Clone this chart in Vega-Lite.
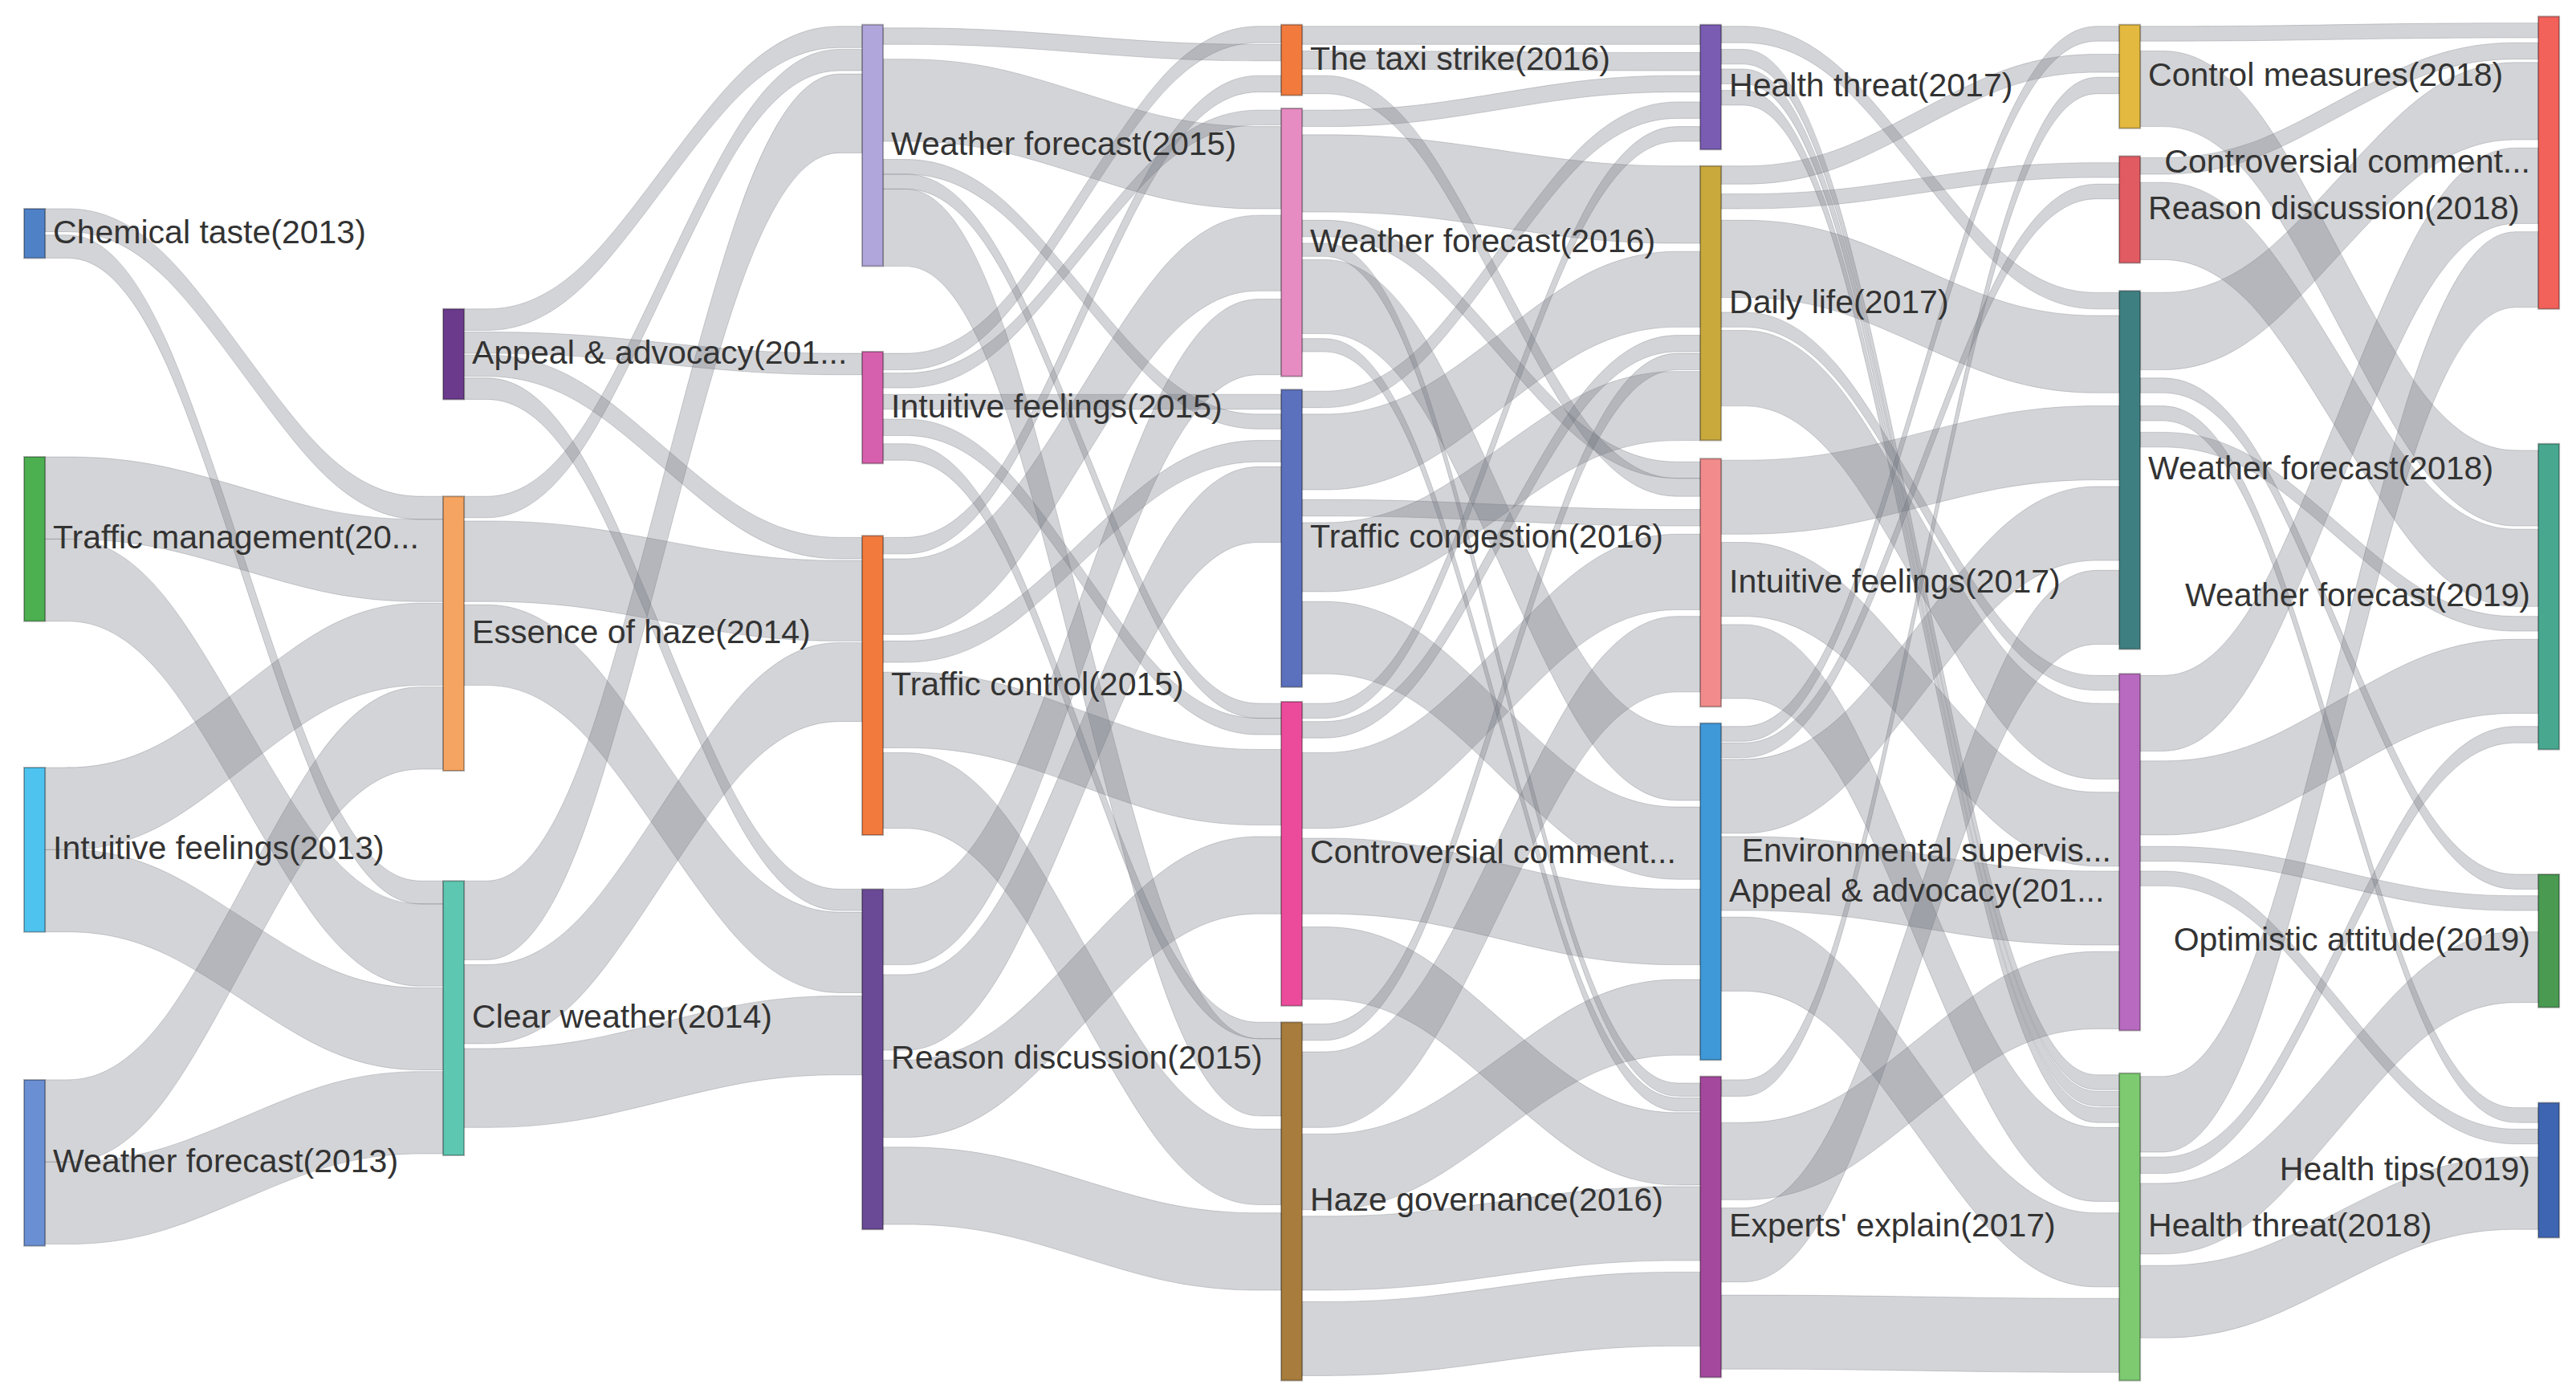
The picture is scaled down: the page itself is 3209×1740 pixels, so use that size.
{
  "$schema": "https://vega.github.io/schema/vega-lite/v6.json",
  "width": 3209,
  "height": 1740,
  "autosize": {"type": "fit", "contains": "padding"},
  "padding": 0,
  "background": "#ffffff",
  "config": {"view": {"stroke": null}},
  "datasets": {
    "nodes": [
      {"id": "Chemical taste(2013)", "label": "Chemical taste(2013)", "c": 0, "y0": 127, "y1": 157, "side": "r"},
      {"id": "Traffic management(2013)", "label": "Traffic management(20...", "c": 0, "y0": 278, "y1": 378, "side": "r"},
      {"id": "Intuitive feelings(2013)", "label": "Intuitive feelings(2013)", "c": 0, "y0": 467, "y1": 567, "side": "r"},
      {"id": "Weather forecast(2013)", "label": "Weather forecast(2013)", "c": 0, "y0": 657, "y1": 758, "side": "r"},
      {"id": "Appeal & advocacy(2014)", "label": "Appeal & advocacy(201...", "c": 1, "y0": 188, "y1": 243, "side": "r"},
      {"id": "Essence of haze(2014)", "label": "Essence of haze(2014)", "c": 1, "y0": 302, "y1": 469, "side": "r"},
      {"id": "Clear weather(2014)", "label": "Clear weather(2014)", "c": 1, "y0": 536, "y1": 703, "side": "r"},
      {"id": "Weather forecast(2015)", "label": "Weather forecast(2015)", "c": 2, "y0": 15, "y1": 162, "side": "r"},
      {"id": "Intuitive feelings(2015)", "label": "Intuitive feelings(2015)", "c": 2, "y0": 214, "y1": 282, "side": "r"},
      {"id": "Traffic control(2015)", "label": "Traffic control(2015)", "c": 2, "y0": 326, "y1": 508, "side": "r"},
      {"id": "Reason discussion(2015)", "label": "Reason discussion(2015)", "c": 2, "y0": 541, "y1": 748, "side": "r"},
      {"id": "The taxi strike(2016)", "label": "The taxi strike(2016)", "c": 3, "y0": 15, "y1": 58, "side": "r"},
      {"id": "Weather forecast(2016)", "label": "Weather forecast(2016)", "c": 3, "y0": 66, "y1": 229, "side": "r"},
      {"id": "Traffic congestion(2016)", "label": "Traffic congestion(2016)", "c": 3, "y0": 237, "y1": 418, "side": "r"},
      {"id": "Controversial comment(2016)", "label": "Controversial comment...", "c": 3, "y0": 427, "y1": 612, "side": "r"},
      {"id": "Haze governance(2016)", "label": "Haze governance(2016)", "c": 3, "y0": 622, "y1": 840, "side": "r"},
      {"id": "Health threat(2017)", "label": "Health threat(2017)", "c": 4, "y0": 15, "y1": 91, "side": "r"},
      {"id": "Daily life(2017)", "label": "Daily life(2017)", "c": 4, "y0": 101, "y1": 268, "side": "r"},
      {"id": "Intuitive feelings(2017)", "label": "Intuitive feelings(2017)", "c": 4, "y0": 279, "y1": 430, "side": "r"},
      {"id": "Appeal & advocacy(2017)", "label": "Appeal & advocacy(201...", "c": 4, "y0": 440, "y1": 645, "side": "r"},
      {"id": "Experts' explain(2017)", "label": "Experts' explain(2017)", "c": 4, "y0": 655, "y1": 838, "side": "r"},
      {"id": "Control measures(2018)", "label": "Control measures(2018)", "c": 5, "y0": 15, "y1": 78, "side": "r"},
      {"id": "Reason discussion(2018)", "label": "Reason discussion(2018)", "c": 5, "y0": 95, "y1": 160, "side": "r"},
      {"id": "Weather forecast(2018)", "label": "Weather forecast(2018)", "c": 5, "y0": 177, "y1": 395, "side": "r"},
      {"id": "Environmental supervision(2018)", "label": "Environmental supervis...", "c": 5, "y0": 410, "y1": 627, "side": "l"},
      {"id": "Health threat(2018)", "label": "Health threat(2018)", "c": 5, "y0": 653, "y1": 840, "side": "r"},
      {"id": "Controversial comment(2019)", "label": "Controversial comment...", "c": 6, "y0": 10, "y1": 188, "side": "l"},
      {"id": "Weather forecast(2019)", "label": "Weather forecast(2019)", "c": 6, "y0": 270, "y1": 456, "side": "l"},
      {"id": "Optimistic attitude(2019)", "label": "Optimistic attitude(2019)", "c": 6, "y0": 532, "y1": 613, "side": "l"},
      {"id": "Health tips(2019)", "label": "Health tips(2019)", "c": 6, "y0": 671, "y1": 753, "side": "l"}
    ],
    "links": [
      {"s": "Chemical taste(2013)", "t": "Essence of haze(2014)", "c": 0, "sy": 127, "ty": 302, "v": 14},
      {"s": "Chemical taste(2013)", "t": "Clear weather(2014)", "c": 0, "sy": 143, "ty": 536, "v": 14},
      {"s": "Traffic management(2013)", "t": "Essence of haze(2014)", "c": 0, "sy": 278, "ty": 316, "v": 50},
      {"s": "Traffic management(2013)", "t": "Clear weather(2014)", "c": 0, "sy": 328, "ty": 550, "v": 50},
      {"s": "Intuitive feelings(2013)", "t": "Essence of haze(2014)", "c": 0, "sy": 467, "ty": 367, "v": 50},
      {"s": "Intuitive feelings(2013)", "t": "Clear weather(2014)", "c": 0, "sy": 517, "ty": 601, "v": 50},
      {"s": "Weather forecast(2013)", "t": "Essence of haze(2014)", "c": 0, "sy": 657, "ty": 418, "v": 50},
      {"s": "Weather forecast(2013)", "t": "Clear weather(2014)", "c": 0, "sy": 707, "ty": 652, "v": 50},

      {"s": "Appeal & advocacy(2014)", "t": "Weather forecast(2015)", "c": 1, "sy": 188, "ty": 16, "v": 13},
      {"s": "Appeal & advocacy(2014)", "t": "Intuitive feelings(2015)", "c": 1, "sy": 202, "ty": 215, "v": 13},
      {"s": "Appeal & advocacy(2014)", "t": "Traffic control(2015)", "c": 1, "sy": 216, "ty": 327, "v": 13},
      {"s": "Appeal & advocacy(2014)", "t": "Reason discussion(2015)", "c": 1, "sy": 230, "ty": 541, "v": 13},
      {"s": "Essence of haze(2014)", "t": "Weather forecast(2015)", "c": 1, "sy": 302, "ty": 30, "v": 13},
      {"s": "Essence of haze(2014)", "t": "Traffic control(2015)", "c": 1, "sy": 317, "ty": 341, "v": 49},
      {"s": "Essence of haze(2014)", "t": "Reason discussion(2015)", "c": 1, "sy": 368, "ty": 555, "v": 49},
      {"s": "Clear weather(2014)", "t": "Weather forecast(2015)", "c": 1, "sy": 536, "ty": 45, "v": 48},
      {"s": "Clear weather(2014)", "t": "Traffic control(2015)", "c": 1, "sy": 587, "ty": 391, "v": 48},
      {"s": "Clear weather(2014)", "t": "Reason discussion(2015)", "c": 1, "sy": 638, "ty": 606, "v": 48},

      {"s": "Weather forecast(2015)", "t": "The taxi strike(2016)", "c": 2, "sy": 17, "ty": 27, "v": 10},
      {"s": "Weather forecast(2015)", "t": "Weather forecast(2016)", "c": 2, "sy": 36, "ty": 77, "v": 50},
      {"s": "Weather forecast(2015)", "t": "Traffic congestion(2016)", "c": 2, "sy": 97, "ty": 252, "v": 9},
      {"s": "Weather forecast(2015)", "t": "Controversial comment(2016)", "c": 2, "sy": 106, "ty": 428, "v": 9},
      {"s": "Weather forecast(2015)", "t": "Haze governance(2016)", "c": 2, "sy": 115, "ty": 632, "v": 47},
      {"s": "Intuitive feelings(2015)", "t": "The taxi strike(2016)", "c": 2, "sy": 215, "ty": 16, "v": 10},
      {"s": "Intuitive feelings(2015)", "t": "Weather forecast(2016)", "c": 2, "sy": 227, "ty": 67, "v": 9},
      {"s": "Intuitive feelings(2015)", "t": "Traffic congestion(2016)", "c": 2, "sy": 240, "ty": 240, "v": 9},
      {"s": "Intuitive feelings(2015)", "t": "Controversial comment(2016)", "c": 2, "sy": 255, "ty": 437, "v": 10},
      {"s": "Intuitive feelings(2015)", "t": "Haze governance(2016)", "c": 2, "sy": 270, "ty": 622, "v": 10},
      {"s": "Traffic control(2015)", "t": "The taxi strike(2016)", "c": 2, "sy": 327, "ty": 46, "v": 10},
      {"s": "Traffic control(2015)", "t": "Weather forecast(2016)", "c": 2, "sy": 340, "ty": 131, "v": 46},
      {"s": "Traffic control(2015)", "t": "Traffic congestion(2016)", "c": 2, "sy": 390, "ty": 268, "v": 13},
      {"s": "Traffic control(2015)", "t": "Controversial comment(2016)", "c": 2, "sy": 409, "ty": 456, "v": 46},
      {"s": "Traffic control(2015)", "t": "Haze governance(2016)", "c": 2, "sy": 458, "ty": 687, "v": 46},
      {"s": "Reason discussion(2015)", "t": "Weather forecast(2016)", "c": 2, "sy": 541, "ty": 182, "v": 46},
      {"s": "Reason discussion(2015)", "t": "Traffic congestion(2016)", "c": 2, "sy": 593, "ty": 284, "v": 46},
      {"s": "Reason discussion(2015)", "t": "Controversial comment(2016)", "c": 2, "sy": 645, "ty": 509, "v": 47},
      {"s": "Reason discussion(2015)", "t": "Haze governance(2016)", "c": 2, "sy": 698, "ty": 738, "v": 47},

      {"s": "The taxi strike(2016)", "t": "Health threat(2017)", "c": 3, "sy": 16, "ty": 16, "v": 11},
      {"s": "The taxi strike(2016)", "t": "Health threat(2017)", "c": 3, "sy": 31, "ty": 32, "v": 11},
      {"s": "The taxi strike(2016)", "t": "Intuitive feelings(2017)", "c": 3, "sy": 46, "ty": 291, "v": 11},
      {"s": "Weather forecast(2016)", "t": "Health threat(2017)", "c": 3, "sy": 67, "ty": 46, "v": 10},
      {"s": "Weather forecast(2016)", "t": "Daily life(2017)", "c": 3, "sy": 82, "ty": 101, "v": 47},
      {"s": "Weather forecast(2016)", "t": "Intuitive feelings(2017)", "c": 3, "sy": 134, "ty": 281, "v": 10},
      {"s": "Weather forecast(2016)", "t": "Experts' explain(2017)", "c": 3, "sy": 148, "ty": 659, "v": 8},
      {"s": "Weather forecast(2016)", "t": "Appeal & advocacy(2017)", "c": 3, "sy": 158, "ty": 442, "v": 45},
      {"s": "Weather forecast(2016)", "t": "Experts' explain(2017)", "c": 3, "sy": 206, "ty": 668, "v": 8},
      {"s": "Traffic congestion(2016)", "t": "Health threat(2017)", "c": 3, "sy": 238, "ty": 62, "v": 10},
      {"s": "Traffic congestion(2016)", "t": "Daily life(2017)", "c": 3, "sy": 252, "ty": 153, "v": 46},
      {"s": "Traffic congestion(2016)", "t": "Intuitive feelings(2017)", "c": 3, "sy": 304, "ty": 310, "v": 10},
      {"s": "Traffic congestion(2016)", "t": "Daily life(2017)", "c": 3, "sy": 318, "ty": 226, "v": 42},
      {"s": "Traffic congestion(2016)", "t": "Appeal & advocacy(2017)", "c": 3, "sy": 366, "ty": 491, "v": 44},
      {"s": "Controversial comment(2016)", "t": "Health threat(2017)", "c": 3, "sy": 428, "ty": 77, "v": 9},
      {"s": "Controversial comment(2016)", "t": "Daily life(2017)", "c": 3, "sy": 439, "ty": 204, "v": 10},
      {"s": "Controversial comment(2016)", "t": "Intuitive feelings(2017)", "c": 3, "sy": 458, "ty": 325, "v": 46},
      {"s": "Controversial comment(2016)", "t": "Appeal & advocacy(2017)", "c": 3, "sy": 510, "ty": 541, "v": 46},
      {"s": "Controversial comment(2016)", "t": "Experts' explain(2017)", "c": 3, "sy": 564, "ty": 677, "v": 44},
      {"s": "Haze governance(2016)", "t": "Daily life(2017)", "c": 3, "sy": 623, "ty": 215, "v": 10},
      {"s": "Haze governance(2016)", "t": "Intuitive feelings(2017)", "c": 3, "sy": 640, "ty": 375, "v": 46},
      {"s": "Haze governance(2016)", "t": "Appeal & advocacy(2017)", "c": 3, "sy": 690, "ty": 596, "v": 46},
      {"s": "Haze governance(2016)", "t": "Experts' explain(2017)", "c": 3, "sy": 740, "ty": 722, "v": 45},
      {"s": "Haze governance(2016)", "t": "Experts' explain(2017)", "c": 3, "sy": 792, "ty": 774, "v": 45},

      {"s": "Health threat(2017)", "t": "Weather forecast(2018)", "c": 4, "sy": 16, "ty": 178, "v": 10},
      {"s": "Health threat(2017)", "t": "Health threat(2018)", "c": 4, "sy": 30, "ty": 654, "v": 9},
      {"s": "Health threat(2017)", "t": "Health threat(2018)", "c": 4, "sy": 42, "ty": 664, "v": 9},
      {"s": "Health threat(2017)", "t": "Health threat(2018)", "c": 4, "sy": 55, "ty": 674, "v": 9},
      {"s": "Daily life(2017)", "t": "Control measures(2018)", "c": 4, "sy": 101, "ty": 33, "v": 11},
      {"s": "Daily life(2017)", "t": "Reason discussion(2018)", "c": 4, "sy": 118, "ty": 99, "v": 9},
      {"s": "Daily life(2017)", "t": "Weather forecast(2018)", "c": 4, "sy": 134, "ty": 192, "v": 47},
      {"s": "Daily life(2017)", "t": "Environmental supervision(2018)", "c": 4, "sy": 190, "ty": 411, "v": 9},
      {"s": "Daily life(2017)", "t": "Environmental supervision(2018)", "c": 4, "sy": 201, "ty": 428, "v": 46},
      {"s": "Intuitive feelings(2017)", "t": "Weather forecast(2018)", "c": 4, "sy": 280, "ty": 247, "v": 45},
      {"s": "Intuitive feelings(2017)", "t": "Environmental supervision(2018)", "c": 4, "sy": 330, "ty": 482, "v": 45},
      {"s": "Intuitive feelings(2017)", "t": "Health threat(2018)", "c": 4, "sy": 380, "ty": 686, "v": 45},
      {"s": "Appeal & advocacy(2017)", "t": "Control measures(2018)", "c": 4, "sy": 442, "ty": 16, "v": 9},
      {"s": "Appeal & advocacy(2017)", "t": "Reason discussion(2018)", "c": 4, "sy": 452, "ty": 112, "v": 9},
      {"s": "Appeal & advocacy(2017)", "t": "Weather forecast(2018)", "c": 4, "sy": 462, "ty": 296, "v": 45},
      {"s": "Appeal & advocacy(2017)", "t": "Environmental supervision(2018)", "c": 4, "sy": 509, "ty": 530, "v": 45},
      {"s": "Appeal & advocacy(2017)", "t": "Health threat(2018)", "c": 4, "sy": 558, "ty": 738, "v": 45},
      {"s": "Experts' explain(2017)", "t": "Control measures(2018)", "c": 4, "sy": 657, "ty": 47, "v": 10},
      {"s": "Experts' explain(2017)", "t": "Environmental supervision(2018)", "c": 4, "sy": 683, "ty": 579, "v": 47},
      {"s": "Experts' explain(2017)", "t": "Weather forecast(2018)", "c": 4, "sy": 735, "ty": 347, "v": 45},
      {"s": "Experts' explain(2017)", "t": "Health threat(2018)", "c": 4, "sy": 788, "ty": 790, "v": 45},

      {"s": "Control measures(2018)", "t": "Controversial comment(2019)", "c": 5, "sy": 16, "ty": 14, "v": 9},
      {"s": "Control measures(2018)", "t": "Weather forecast(2019)", "c": 5, "sy": 31, "ty": 274, "v": 46},
      {"s": "Reason discussion(2018)", "t": "Controversial comment(2019)", "c": 5, "sy": 96, "ty": 26, "v": 10},
      {"s": "Reason discussion(2018)", "t": "Weather forecast(2019)", "c": 5, "sy": 111, "ty": 322, "v": 47},
      {"s": "Weather forecast(2018)", "t": "Controversial comment(2019)", "c": 5, "sy": 178, "ty": 38, "v": 47},
      {"s": "Weather forecast(2018)", "t": "Optimistic attitude(2019)", "c": 5, "sy": 230, "ty": 532, "v": 9},
      {"s": "Weather forecast(2018)", "t": "Health tips(2019)", "c": 5, "sy": 247, "ty": 674, "v": 9},
      {"s": "Weather forecast(2018)", "t": "Weather forecast(2019)", "c": 5, "sy": 263, "ty": 375, "v": 9},
      {"s": "Environmental supervision(2018)", "t": "Controversial comment(2019)", "c": 5, "sy": 411, "ty": 90, "v": 46},
      {"s": "Environmental supervision(2018)", "t": "Weather forecast(2019)", "c": 5, "sy": 463, "ty": 389, "v": 45},
      {"s": "Environmental supervision(2018)", "t": "Optimistic attitude(2019)", "c": 5, "sy": 515, "ty": 545, "v": 9},
      {"s": "Environmental supervision(2018)", "t": "Health tips(2019)", "c": 5, "sy": 530, "ty": 687, "v": 9},
      {"s": "Health threat(2018)", "t": "Controversial comment(2019)", "c": 5, "sy": 655, "ty": 141, "v": 46},
      {"s": "Health threat(2018)", "t": "Weather forecast(2019)", "c": 5, "sy": 704, "ty": 442, "v": 10},
      {"s": "Health threat(2018)", "t": "Optimistic attitude(2019)", "c": 5, "sy": 720, "ty": 567, "v": 43},
      {"s": "Health threat(2018)", "t": "Health tips(2019)", "c": 5, "sy": 770, "ty": 704, "v": 44}
    ]
  },
  "layer": [
    {
      "data": {"name": "links"},
      "transform": [
        {"window": [{"op": "row_number", "as": "id"}]},
        {"calculate": "[datum.c + 0.05, datum.c + 0.316, datum.c + 0.734, datum.c + 1]", "as": "px"},
        {"calculate": "[datum.sy, datum.sy, datum.ty, datum.ty]", "as": "top"},
        {"calculate": "[datum.sy + datum.v, datum.sy + datum.v, datum.ty + datum.v, datum.ty + datum.v]", "as": "bot"},
        {"flatten": ["px", "top", "bot"]}
      ],
      "mark": {"type": "area", "orient": "vertical", "interpolate": "basis", "fill": "#6e7079", "fillOpacity": 0.3, "stroke": "#6e7079", "strokeOpacity": 0.3, "strokeWidth": 1},
      "encoding": {
        "x": {"field": "px", "type": "quantitative", "scale": {"domain": [-0.05747, 6.09], "nice": false, "zero": false}, "axis": null},
        "y": {"field": "top", "type": "quantitative", "stack": null, "scale": {"domain": [0, 850], "reverse": true, "nice": false, "zero": false}, "axis": null},
        "y2": {"field": "bot"},
        "detail": {"field": "id", "type": "nominal"}
      }
    },
    {
      "data": {"name": "nodes"},
      "transform": [{"calculate": "datum.c + 0.05", "as": "c2"}],
      "mark": {"type": "rect", "stroke": "#000000", "strokeOpacity": 0.3, "strokeWidth": 2},
      "encoding": {
        "x": {"field": "c", "type": "quantitative", "scale": {"domain": [-0.05747, 6.09], "nice": false, "zero": false}, "axis": null},
        "x2": {"field": "c2"},
        "y": {"field": "y0", "type": "quantitative", "scale": {"domain": [0, 850], "reverse": true, "nice": false, "zero": false}, "axis": null},
        "y2": {"field": "y1"},
        "fill": {
          "field": "id", "type": "nominal", "legend": null,
          "scale": {
            "domain": ["Chemical taste(2013)", "Traffic management(2013)", "Intuitive feelings(2013)", "Weather forecast(2013)", "Appeal & advocacy(2014)", "Essence of haze(2014)", "Clear weather(2014)", "Weather forecast(2015)", "Intuitive feelings(2015)", "Traffic control(2015)", "Reason discussion(2015)", "The taxi strike(2016)", "Weather forecast(2016)", "Traffic congestion(2016)", "Controversial comment(2016)", "Haze governance(2016)", "Health threat(2017)", "Daily life(2017)", "Intuitive feelings(2017)", "Appeal & advocacy(2017)", "Experts' explain(2017)", "Control measures(2018)", "Reason discussion(2018)", "Weather forecast(2018)", "Environmental supervision(2018)", "Health threat(2018)", "Controversial comment(2019)", "Weather forecast(2019)", "Optimistic attitude(2019)", "Health tips(2019)"],
            "range": ["#4f81c7", "#4caf50", "#4fc3f0", "#6a8fd3", "#6b3a8c", "#f5a462", "#5ec7b2", "#b1a6db", "#d660ad", "#f27a3d", "#6a4a96", "#f27a3d", "#e68cc3", "#5b71bd", "#ec4b9c", "#a77c3c", "#7a5cb3", "#c9a93c", "#f28b8b", "#3f98d8", "#a3489c", "#e3b93f", "#e15b63", "#3e7f82", "#b86ac0", "#7dca70", "#f2615a", "#47a88f", "#4a9a52", "#3e65b2"]
          }
        }
      }
    },
    {
      "data": {"name": "nodes"},
      "transform": [
        {"filter": "datum.side == 'r'"},
        {"calculate": "datum.c + 0.05", "as": "lx"},
        {"calculate": "(datum.y0 + datum.y1) / 2", "as": "ym"}
      ],
      "mark": {"type": "text", "align": "left", "baseline": "middle", "dx": 10, "font": "Liberation Sans", "fontSize": 41, "fill": "#333333"},
      "encoding": {
        "x": {"field": "lx", "type": "quantitative", "scale": {"domain": [-0.05747, 6.09], "nice": false, "zero": false}, "axis": null},
        "y": {"field": "ym", "type": "quantitative", "scale": {"domain": [0, 850], "reverse": true, "nice": false, "zero": false}, "axis": null},
        "text": {"field": "label", "type": "nominal"}
      }
    },
    {
      "data": {"name": "nodes"},
      "transform": [
        {"filter": "datum.side == 'l'"},
        {"calculate": "(datum.y0 + datum.y1) / 2", "as": "ym"}
      ],
      "mark": {"type": "text", "align": "right", "baseline": "middle", "dx": -10, "font": "Liberation Sans", "fontSize": 41, "fill": "#333333"},
      "encoding": {
        "x": {"field": "c", "type": "quantitative", "scale": {"domain": [-0.05747, 6.09], "nice": false, "zero": false}, "axis": null},
        "y": {"field": "ym", "type": "quantitative", "scale": {"domain": [0, 850], "reverse": true, "nice": false, "zero": false}, "axis": null},
        "text": {"field": "label", "type": "nominal"}
      }
    }
  ]
}
